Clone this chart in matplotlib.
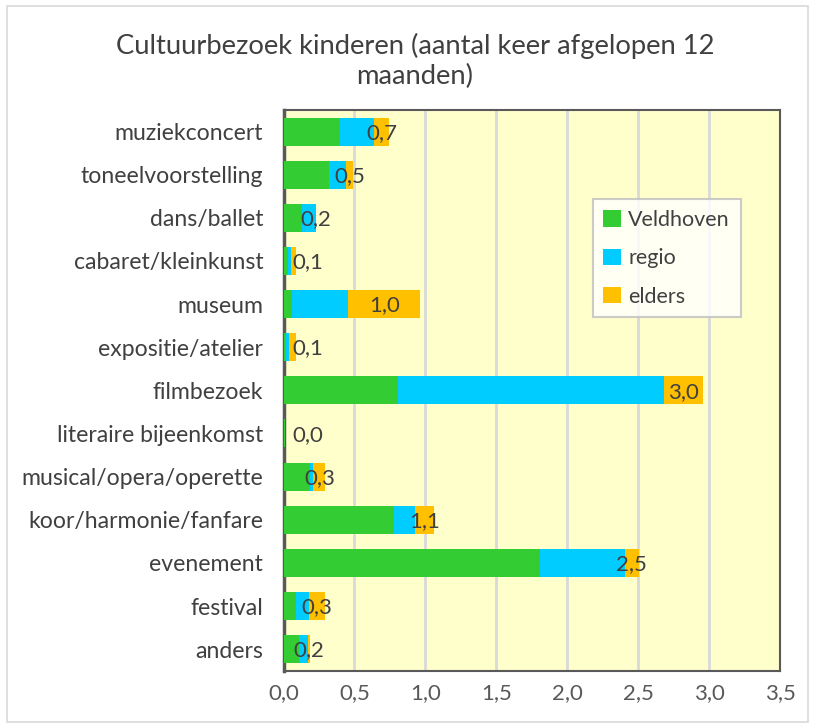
import matplotlib
matplotlib.use("Agg")
import matplotlib.pyplot as plt
from matplotlib.patches import Rectangle
import numpy as np

categories = ["muziekconcert", "toneelvoorstelling", "dans/ballet", "cabaret/kleinkunst",
              "museum", "expositie/atelier", "filmbezoek", "literaire bijeenkomst",
              "musical/opera/operette", "koor/harmonie/fanfare", "evenement", "festival", "anders"]
veldhoven = [0.40, 0.32, 0.13, 0.035, 0.06, 0.02, 0.805, 0.008, 0.185, 0.78, 1.805, 0.085, 0.11]
regio     = [0.235, 0.12, 0.10, 0.015, 0.395, 0.02, 1.88, 0.0, 0.025, 0.145, 0.60, 0.095, 0.06]
elders    = [0.11, 0.05, 0.0, 0.035, 0.51, 0.045, 0.27, 0.002, 0.085, 0.135, 0.10, 0.11, 0.02]
series_names = ["Veldhoven", "regio", "elders"]
colors = ["#33CC33", "#00CCFF", "#FFC000"]
xticks = [0.0, 0.5, 1.0, 1.5, 2.0, 2.5, 3.0, 3.5]
title = "Cultuurbezoek kinderen (aantal keer afgelopen 12\nmaanden)"

plt.rcParams['font.family'] = ['Lato', 'DejaVu Sans']

W, H = 815, 728
fig = plt.figure(figsize=(W / 100, H / 100), dpi=100)
fig.patch.set_facecolor("white")
ax = fig.add_axes([283.5 / W, 1 - 670.7 / H, (780 - 283.5) / W, (670.7 - 110) / H])
ax.set_facecolor("#FFFFCC")

n = len(categories)
y = np.arange(n)
v = np.array(veldhoven); r = np.array(regio); e = np.array(elders)
bh = 0.65
ax.barh(y, v, height=bh, color=colors[0], label=series_names[0], zorder=3)
ax.barh(y, r, left=v, height=bh, color=colors[1], label=series_names[1], zorder=3)
ax.barh(y, e, left=v + r, height=bh, color=colors[2], label=series_names[2], zorder=3)

fs = 16
tot = v + r + e
for i in range(n):
    cx = v[i] + r[i] + e[i] / 2
    cx = max(cx, 0.17)
    ax.text(cx, y[i] + 0.03, f"{tot[i]:.1f}".replace(".", ","), ha="center", va="center",
            fontsize=fs, color="#404040", zorder=5)

ax.set_xlim(0, 3.5)
ax.set_ylim(n - 0.5, -0.5)
ax.set_xticks(xticks)
ax.set_xticklabels([f"{t:.1f}".replace(".", ",") for t in xticks], fontsize=fs, color="#595959")
ax.set_yticks(y)
ax.set_yticklabels(categories, fontsize=16.6, color="#404040")
ax.tick_params(axis="both", length=0, pad=9)
ax.tick_params(axis="y", pad=14.5)
ax.grid(axis="x", color="#D9D9D9", linewidth=2, zorder=1)
ax.set_axisbelow(True)
for s in ["top", "right", "bottom"]:
    ax.spines[s].set_color("#595959")
    ax.spines[s].set_linewidth(1.5)
ax.spines["left"].set_color("#595959")
ax.spines["left"].set_linewidth(2.5)

leg = ax.legend(loc="upper left", bbox_to_anchor=((592.7 - 283.5) / (780 - 283.5), 1 - (199.3 - 110) / (670.7 - 110)),
                fontsize=15.5, frameon=True, fancybox=False, handlelength=0.8, handleheight=0.8,
                labelspacing=0.85, borderpad=0.5, handletextpad=0.35, labelcolor="#404040",
                borderaxespad=0)
leg.get_frame().set_edgecolor("#BFBFBF")
leg.get_frame().set_linewidth(1.5)

fig.text(415 / W, 1 - 61 / H, title, ha="center", va="center", fontsize=19.7,
         color="#404040", linespacing=1.2)

fig.patches.append(Rectangle((7 / W, 6 / H), (W - 14) / W, (H - 12) / H, transform=fig.transFigure,
                             fill=False, edgecolor="#D9D9D9", linewidth=1.2))

fig.savefig("out.png", dpi=100)
